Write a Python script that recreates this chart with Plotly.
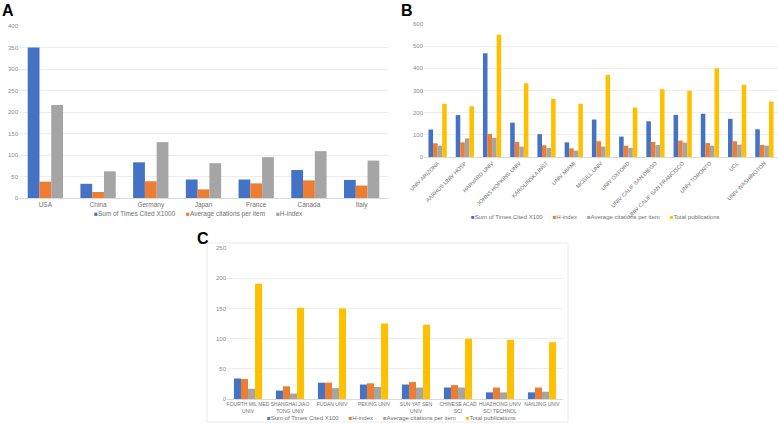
import plotly.graph_objects as go

BLUE = "#4472C4"
ORANGE = "#ED7D31"
GRAY = "#A5A5A5"
YELLOW = "#FFC000"

# Panel A
countries = ["USA", "China", "Germany", "Japan", "France", "Canada", "Italy"]
a_cited = [350, 33, 83, 43, 43, 65, 42]
a_avg = [38, 14, 39, 20, 34, 41, 29]
a_hindex = [216, 62, 130, 81, 95, 109, 87]
a_series = ["Sum of Times Cited X1000", "Average citations per item", "H-index"]

# Panel B
institutions = ["UNIV ARIZONA", "AARHUS UNIV HOSP", "HARVARD UNIV", "JOHNS HOPKINS UNIV",
                "KAROLINSKA INST", "UNIV MIAMI", "MCGILL UNIV", "UNIV OXFORD",
                "UNIV CALIF SAN DIEGO", "UNIV CALIF SAN FRANCISCO", "UNIV TORONTO", "UCL",
                "UNIV WASHINGTON"]
b_cited = [124, 189, 468, 155, 103, 66, 169, 92, 161, 190, 195, 172, 125]
b_hindex = [62, 66, 104, 68, 53, 39, 71, 51, 68, 74, 63, 71, 54]
b_avg = [51, 84, 87, 47, 41, 29, 47, 41, 54, 65, 51, 56, 51]
b_pubs = [240, 229, 552, 333, 262, 240, 370, 223, 306, 299, 400, 326, 250]
bc_series = ["Sum of Times Cited X100", "H-index", "Average citations per item", "Total publications"]

# Panel C
cn_institutions = ["FOURTH MIL MED<br>UNIV", "SHANGHAI JIAO<br>TONG UNIV", "FUDAN UNIV",
                   "PEKING UNIV", "SUN YAT SEN<br>UNIV", "CHINESE ACAD<br>SCI",
                   "HUAZHONG UNIV<br>SCI TECHNOL", "NANJING UNIV"]
c_cited = [34, 14, 27, 24, 24, 19, 11, 11]
c_hindex = [33, 21, 27, 26, 28, 23, 19, 19]
c_avg = [17, 9, 18, 20, 19, 19, 11, 12]
c_pubs = [191, 151, 150, 125, 123, 100, 98, 94]

FONT = "Liberation Sans, Arial, sans-serif"
fig = go.Figure()

def add(x, y, name, color, xa, ya):
    fig.add_trace(go.Bar(x=x, y=y, name=name, marker=dict(color=color, line=dict(width=0)),
                         xaxis=xa, yaxis=ya, showlegend=False))

a_colors = [BLUE, ORANGE, GRAY]
for vals, name, col in zip([a_cited, a_avg, a_hindex], a_series, a_colors):
    add(countries, vals, name, col, "x", "y")

bc_colors = [BLUE, ORANGE, GRAY, YELLOW]
for vals, name, col in zip([b_cited, b_hindex, b_avg, b_pubs], bc_series, bc_colors):
    add(institutions, vals, name, col, "x2", "y2")
for vals, name, col in zip([c_cited, c_hindex, c_avg, c_pubs], bc_series, bc_colors):
    add(cn_institutions, vals, name, col, "x3", "y3")

W, H = 778, 424
def px(v):
    return v / W
def py(v):
    return 1 - v / H

xcommon = dict(showgrid=False, showline=True, linecolor="#D9D9D9", linewidth=1, ticks="",
               automargin=False)
ycommon = dict(showgrid=True, gridcolor="#EDEDED", gridwidth=1, zeroline=False, showline=False,
               ticks="", automargin=False, tickfont=dict(family=FONT, size=6, color="#8A8A8A"))

fig.update_layout(
    width=W, height=H,
    margin=dict(l=0, r=0, t=0, b=0, autoexpand=False),
    paper_bgcolor="white", plot_bgcolor="white",
    barmode="group", bargroupgap=0, bargap=0.33,
    showlegend=False,
    xaxis=dict(domain=[px(19), px(388)], anchor="y",
               tickfont=dict(family=FONT, size=6.5, color="#707070"), **xcommon),
    yaxis=dict(domain=[py(198), py(26)], anchor="x", range=[0, 400], dtick=50, **ycommon),
    xaxis2=dict(domain=[px(424), 1.0], anchor="y2", tickangle=-45,
                tickfont=dict(family=FONT, size=5.5, color="#707070"), **xcommon),
    yaxis2=dict(domain=[py(157), py(24)], anchor="x2", range=[0, 600], dtick=100, **ycommon),
    xaxis3=dict(domain=[px(227), px(563)], anchor="y3", tickangle=0,
                tickfont=dict(family=FONT, size=5, color="#707070"), **xcommon),
    yaxis3=dict(domain=[py(399), py(248)], anchor="x3", range=[0, 250], dtick=50, **ycommon),
)

panel_font = dict(family=FONT, size=16, color="black")
for label, x, y in [("<b>A</b>", 0, 0), ("<b>B</b>", 399, 0), ("<b>C</b>", 195, 228)]:
    fig.add_annotation(text=label, x=px(x), y=py(y), xref="paper", yref="paper",
                       xanchor="left", yanchor="top", showarrow=False, font=panel_font)

NB = "\u00a0"
def legend_text(names, colors, sep):
    parts = []
    for n, c in zip(names, colors):
        parts.append(f"<span style='color:{c}'>■</span>{n}")
    return (NB * sep).join(parts)

fig.add_annotation(text=legend_text(a_series, a_colors, 6), x=px(198), y=py(214),
                   xref="paper", yref="paper", xanchor="center", yanchor="middle",
                   showarrow=False, font=dict(family=FONT, size=6.5, color="#707070"))
fig.add_annotation(text=legend_text(bc_series, bc_colors, 6), x=px(595), y=py(217),
                   xref="paper", yref="paper", xanchor="center", yanchor="middle",
                   showarrow=False, font=dict(family=FONT, size=6, color="#707070"))
fig.add_annotation(text=legend_text(bc_series, bc_colors, 6), x=px(391), y=py(418),
                   xref="paper", yref="paper", xanchor="center", yanchor="middle",
                   showarrow=False, font=dict(family=FONT, size=6, color="#707070"))

fig.add_shape(type="rect", xref="paper", yref="paper", x0=px(207), x1=px(568), y0=py(422), y1=py(243),
              line=dict(color="#EAEAEA", width=1), fillcolor="rgba(0,0,0,0)", layer="below")

fig.write_html("out.html", config={"displayModeBar": False},
               post_script="document.body.style.margin='0';document.body.style.padding='0';")
